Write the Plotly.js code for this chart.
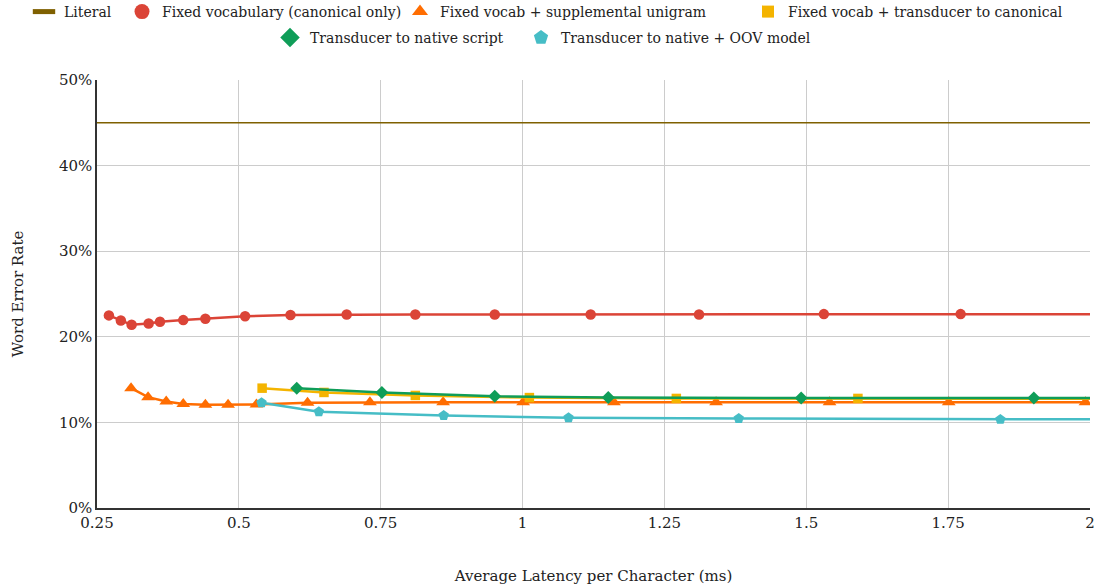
<!DOCTYPE html>
<html>
<head>
<meta charset="utf-8">
<script src="https://cdn.plot.ly/plotly-3.0.1.min.js"></script>
<style>html,body{margin:0;padding:0;background:#fff;}#chart{width:1101px;height:588px;}</style>
</head>
<body>
<div id="chart"></div>
<script>
// Series names
const seriesNames = [
  "Literal",
  "Fixed vocabulary (canonical only)",
  "Fixed vocab + supplemental unigram",
  "Fixed vocab + transducer to canonical",
  "Transducer to native script",
  "Transducer to native + OOV model"
];

// Literal
const literalX = [0.25, 2.0];
const literalY = [45.0, 45.0];

// Fixed vocabulary (canonical only)
const fixedX = [0.271, 0.292, 0.311, 0.341, 0.361, 0.402, 0.441, 0.511, 0.591, 0.690, 0.811, 0.951, 1.120, 1.311, 1.531, 1.772, 2.1];
const fixedY = [22.5, 21.9, 21.4, 21.55, 21.75, 21.95, 22.1, 22.4, 22.55, 22.6, 22.6, 22.6, 22.6, 22.6, 22.65, 22.65, 22.65];

// Fixed vocab + supplemental unigram
const unigramX = [0.310, 0.340, 0.372, 0.402, 0.441, 0.481, 0.531, 0.621, 0.731, 0.860, 1.001, 1.161, 1.341, 1.541, 1.751, 1.992];
const unigramY = [14.0, 12.95, 12.45, 12.15, 12.05, 12.05, 12.1, 12.3, 12.35, 12.35, 12.35, 12.35, 12.35, 12.35, 12.35, 12.35];

// Fixed vocab + transducer to canonical
const canonX = [0.541, 0.650, 0.811, 1.012, 1.271, 1.591, 2.1];
const canonY = [14.0, 13.5, 13.15, 12.9, 12.8, 12.8, 12.75];

// Transducer to native script
const nativeX = [0.602, 0.752, 0.951, 1.151, 1.491, 1.901, 2.1];
const nativeY = [14.0, 13.5, 13.05, 12.9, 12.85, 12.85, 12.85];

// Transducer to native + OOV model
const oovX = [0.540, 0.641, 0.861, 1.081, 1.381, 1.842, 2.1];
const oovY = [12.3, 11.25, 10.8, 10.55, 10.45, 10.35, 10.35];

// Axis ticks
const xTicks = [0.25, 0.5, 0.75, 1, 1.25, 1.5, 1.75, 2];
const xTickLabels = ["0.25", "0.5", "0.75", "1", "1.25", "1.5", "1.75", "2"];
const yTicks = [0, 10, 20, 30, 40, 50];
const yTickLabels = ["0%", "10%", "20%", "30%", "40%", "50%"];

const colors = ["#7f6000", "#db4437", "#ff6d01", "#f4b400", "#0f9d58", "#46bdc6"];
const symbols = [null, "circle", "triangle-up", "square", "diamond", "pentagon"];
const plotMarkerSizes = [0, 10.5, 12, 9.5, 10, 11];
const legendMarkerSizes = [16, 15, 14, 12, 15, 15];
const FONT = "'DejaVu Serif', Georgia, serif";
const FS = 15;
const LFS = 14;

// legend slot per series: [left px, centre y px] in the 1101x588 figure
const legendSlots = [[24, 12], [122, 12], [400, 12], [748, 12], [270, 38], [521, 38]];
const legendIds = ["legend", "legend2", "legend3", "legend4", "legend5", "legend6"];

const seriesX = [literalX, fixedX, unigramX, canonX, nativeX, oovX];
const seriesY = [literalY, fixedY, unigramY, canonY, nativeY, oovY];

const data = [];
// plotted series (lines + markers), not in legend
seriesX.forEach(function (x, i) {
  const t = {
    type: "scatter", x: x, y: seriesY[i], name: seriesNames[i],
    mode: symbols[i] ? "lines+markers" : "lines",
    line: {color: colors[i], width: symbols[i] ? 2.5 : 1.5},
    showlegend: false, legendgroup: "g" + i,
    hoverinfo: "x+y+name"
  };
  if (symbols[i]) t.marker = {symbol: symbols[i], size: plotMarkerSizes[i], color: colors[i]};
  data.push(t);
});
// legend entries (marker swatch only)
seriesNames.forEach(function (name, i) {
  const t = {
    type: "scatter", x: [null], y: [null], name: name, mode: "markers",
    legend: legendIds[i], legendgroup: "g" + i, showlegend: true, hoverinfo: "skip"
  };
  if (symbols[i]) {
    t.marker = {symbol: symbols[i], size: legendMarkerSizes[i], color: colors[i]};
  } else {
    t.marker = {symbol: "line-ew-open", size: legendMarkerSizes[i], color: colors[i], line: {color: colors[i], width: 5}};
  }
  data.push(t);
});

const legFont = {family: FONT, size: LFS, color: "#222"};

const layout = {
  width: 1101, height: 588,
  margin: {l: 97, r: 11, t: 80, b: 80},
  paper_bgcolor: "#fff", plot_bgcolor: "#fff",
  font: {family: FONT, size: FS, color: "#222"},
  showlegend: true,
  xaxis: {
    range: [0.25, 2], tickmode: "array", tickvals: xTicks, ticktext: xTickLabels,
    showgrid: true, gridcolor: "#cccccc", gridwidth: 1,
    showline: true, linecolor: "#333", linewidth: 1.5, zeroline: false,
    ticks: "", tickfont: {family: FONT, size: FS, color: "#222"},
    title: {text: "Average Latency per Character (ms)", font: {family: FONT, size: FS, color: "#222"}, standoff: 40}
  },
  yaxis: {
    range: [0, 50], tickmode: "array", tickvals: yTicks, ticktext: yTickLabels,
    showgrid: true, gridcolor: "#cccccc", gridwidth: 1,
    showline: true, linecolor: "#333", linewidth: 1.5, zeroline: false,
    ticks: "", tickfont: {family: FONT, size: FS, color: "#222"},
    title: {text: "Word Error Rate", font: {family: FONT, size: FS, color: "#222"}, standoff: 32}
  }
};

legendIds.forEach(function (id, i) {
  layout[id] = {
    orientation: "h", xref: "container", yref: "container",
    x: legendSlots[i][0] / 1101, xanchor: "left",
    y: 1 - legendSlots[i][1] / 588, yanchor: "middle",
    font: legFont, bgcolor: "rgba(0,0,0,0)", borderwidth: 0
  };
});

Plotly.newPlot("chart", data, layout, {displayModeBar: false, staticPlot: false});
</script>
</body>
</html>
